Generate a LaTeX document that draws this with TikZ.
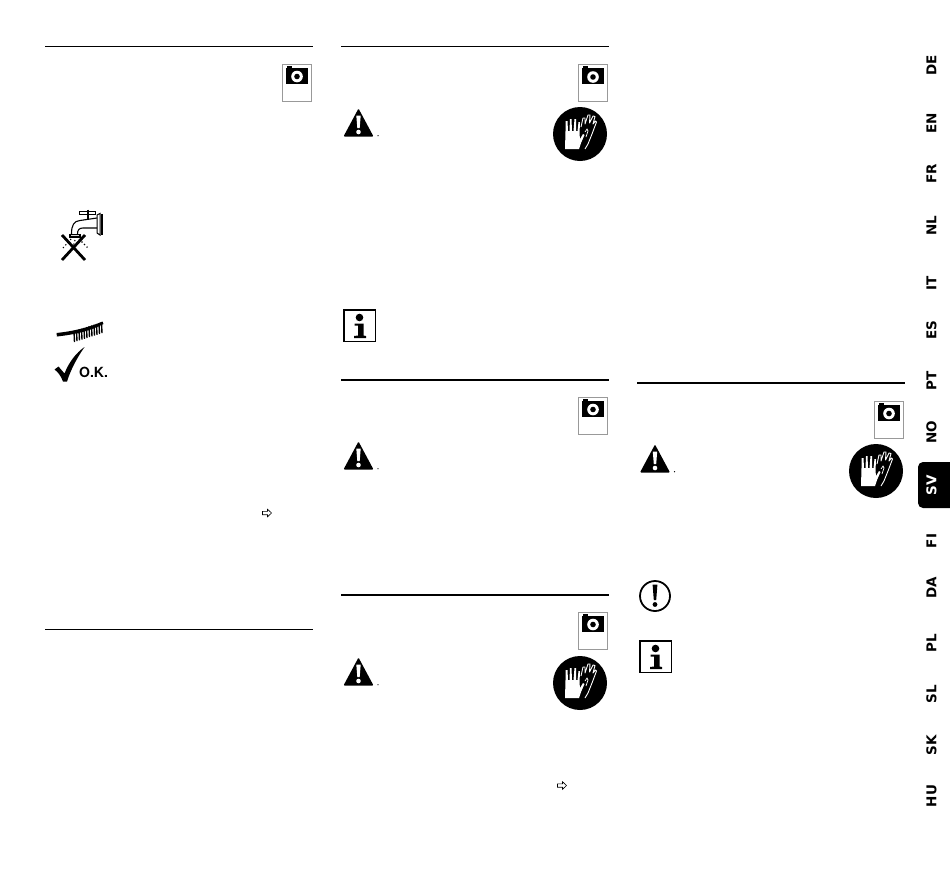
\documentclass[tikz,border=0pt]{standalone}
\usepackage{fontspec}
\newfontfamily\tabfont{DejaVu Sans}
\newfontfamily\okfont{TeX Gyre Heros}
\usetikzlibrary{calc,positioning}
\tikzset{
  rulestyle/.style={line width=1.7pt},
  tabstyle/.style={font=\tabfont\bfseries\fontsize{13.5}{15}\selectfont,rotate=90,inner sep=0pt},
  camicon/.pic={
    \draw[gray!80,fill=white,line width=0.9pt] (0,0) rectangle (29,37);
    \fill[black] (3.5,3.5) rectangle (26,19.5);
    \fill[black] (5,1.5) rectangle (9.5,4);
    \fill[white] (15,12.5) circle (5.8);
    \fill[black] (15,12.5) circle (2.8);
  },
  warnicon/.pic={
    \fill[black,rounded corners=1pt] (0,0) -- (15,-28) -- (30,0) -- cycle;
    \fill[white] (12.8,-21) -- (17.2,-21) -- (16.2,-8.5) -- (13.8,-8.5) -- cycle;
    \fill[white] (15,-4.5) circle (2.3);
    \fill[black] (34.5,-0.8) circle (0.7);
  },
  gloveicon/.pic={
    \fill[black] (0,0) circle (27);
    \fill[white] (-15,15) -- (-14.5,-3) -- (-14.5,-13) -- (-12.5,-13) -- (-12,-3) -- (-10.5,-3) -- (-10,-15) -- (-8.5,-15) -- (-8,-3)
      -- (-6.5,-3) -- (-5.5,-15) -- (-4,-15) -- (-4,-3) -- (-2.5,-3) -- (-1.5,-12) -- (0,-12) -- (-0.5,0) -- (0,5) -- (3,0) -- (4.5,1) -- (1,9) -- (-1,15) -- cycle;
    \draw[white,line width=0.9pt,line join=round] (1,-7) -- (3,-16) -- (5,-16) -- (5,-10) -- (8,-19) -- (10,-19) -- (9.5,-11)
      -- (13,-18) -- (15,-17.5) -- (13,-10) -- (15.5,-13) -- (16.5,-12) -- (12,0) -- (8,10) -- (5,15);
    \draw[white,line width=0.7pt] (5,-2) -- (7,-5) -- (8,-3) -- (6,3);
  },
  infoicon/.pic={
    \draw[black,fill=white,line width=1.2pt] (0,0) rectangle (31.5,31.5);
    \fill[black] (15.5,7.5) circle (3.8);
    \fill[black] (10.5,13.5) -- (19.5,13.5) -- (19.5,25.5) -- (22,26) -- (22,28) -- (10,28) -- (10,26) -- (14,25.5) -- (14,15.5) -- (10.5,15.5) -- cycle;
  },
  arrowicon/.pic={
    \draw[black,line width=0.6pt,line join=miter] (-4.5,-1.7) -- (0.5,-1.7) -- (0.5,-3.8) -- (4.5,0) -- (0.5,3.8) -- (0.5,1.7) -- (-4.5,1.7) -- cycle;
  },
}
\begin{document}
\begin{tikzpicture}[x=1pt,y=-1pt]
  \useasboundingbox (0,0) rectangle (950,881);
  % section rules
  \draw[rulestyle] (45,46.5) -- (312.5,46.5);
  \draw[rulestyle] (45,629.5) -- (312.5,629.5);
  \draw[rulestyle] (341,46.5) -- (608.5,46.5);
  \draw[rulestyle] (341,380) -- (608.5,380);
  \draw[rulestyle] (341,595) -- (608.5,595);
  \draw[rulestyle] (637,383) -- (904.5,383);
  % camera boxes
  \pic (cam1) at (282,64) {camicon};
  \pic (cam2) at (578,64.5) {camicon};
  \pic (cam3) at (578,397) {camicon};
  \pic (cam4) at (578,612) {camicon};
  \pic (cam5) at (874,401) {camicon};
  % warnings
  \pic (warn1) at (343.5,136.5) {warnicon};
  \pic (warn2) at (343.5,469.5) {warnicon};
  \pic (warn3) at (343.5,685.5) {warnicon};
  \pic (warn4) at (640,472.5) {warnicon};
  % gloves
  \pic (glove1) at (580,134) {gloveicon};
  \pic (glove2) at (580,683) {gloveicon};
  \pic (glove3) at (876,471) {gloveicon};
  % info boxes
  \pic (info1) at (344,310) {infoicon};
  \pic (info2) at (640,641) {infoicon};
  % note
  \draw[line width=1.8pt] (655,596) circle (15);
  \fill (652.6,584.5) -- (657.4,584.5) -- (656.2,600) -- (653.8,600) -- cycle;
  \fill (655,604.5) circle (2.4);
  % tap
  \draw[line width=1pt,fill=white] (97,215) -- (100,213.5) -- (100,235) -- (97,233) -- cycle;
  \draw[line width=2pt] (101.5,214) -- (101.5,235);
  \draw[line width=1.1pt] (97,218) -- (80,220.5) .. controls (74,221) and (71.5,225) .. (71.5,234);
  \draw[line width=1.1pt] (97,228) -- (83,228) .. controls (79,228) and (77.5,230) .. (77.5,234);
  \draw[line width=1.2pt,fill=gray!30] (70,234.5) rectangle (80,237);
  \draw[line width=1pt,fill=white] (79,211.5) rectangle (95,214.5);
  \draw[line width=1.6pt] (88,209.5) -- (88,219);
  \draw[line width=1.1pt,dash pattern=on 1.2pt off 2.4pt] (71,239) -- (63,248);
  \draw[line width=1.1pt,dash pattern=on 1.2pt off 2.4pt] (75,240) -- (73,247);
  \draw[line width=1.1pt,dash pattern=on 1.2pt off 2.4pt] (79,239) -- (88,248);
  \draw[line width=2.8pt] (62,235) -- (85,260);
  \draw[line width=2.8pt] (85,235) -- (62,260);
  % comb and check mark
  \fill (56.5,333) .. controls (75,331) and (90,327) .. (102.5,321.5) -- (103.5,324) .. controls (90,331) and (75,334.5) .. (57,336.5) -- cycle;
  \foreach \i in {0,...,11}{
    \draw[line width=1.4pt] ({74+2.5*\i},{331-0.8*\i}) -- ({74.5+2.5*\i},{342-0.8*\i});
  }
  \fill (54.5,369.5) -- (58.5,366.5) -- (64.5,373.5) .. controls (69,362) and (76,353) .. (84.5,347) .. controls (77,358) and (71,369) .. (67,381.5) -- (63,381.5) .. controls (61,376) and (58,372) .. (54.5,369.5) -- cycle;
  \node[anchor=base west,inner sep=0pt,font=\okfont\bfseries\fontsize{14}{16}\selectfont] (oklabel) at (79,377) {O.K.};
  % see-also arrows
  \pic (arrow1) at (267,513) {arrowicon};
  \pic (arrow2) at (562,785.5) {arrowicon};
  % language tabs
  \fill[black,rounded corners=5pt] (960,462) -- (918,462) -- (918,508) -- (960,508) -- cycle;
  \foreach \lang/\ypos in {DE/65,EN/123,FR/174,NL/226,IT/283,ES/330,PT/381,NO/432,FI/541,DA/588,PL/643,SL/694,SK/745,HU/796}{
    \node[tabstyle] (tab\lang) at (931.5,\ypos) {\lang};
  }
  \node[tabstyle,text=white] (tabSV) at (931.5,485) {SV};
\end{tikzpicture}
\end{document}
